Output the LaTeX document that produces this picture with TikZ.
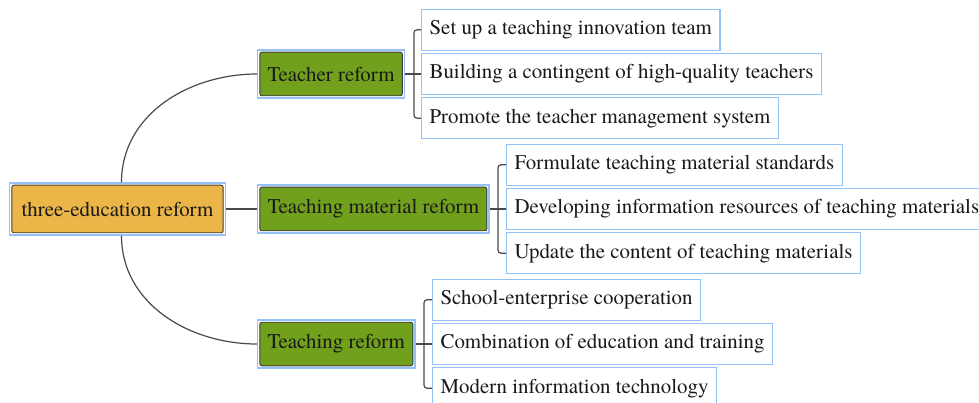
\documentclass[tikz,border=0pt]{standalone}
\usepackage{fontspec}
\setmainfont{texgyretermes-regular.otf}
\usetikzlibrary{positioning}
\definecolor{rootfill}{HTML}{EBB548}
\definecolor{branchfill}{HTML}{71A01C}
\definecolor{framecol}{HTML}{94C2F7}
\definecolor{edgecol}{HTML}{3C3C3C}
\definecolor{linkcol}{HTML}{4A4A4A}
\tikzset{
every picture/.style={
line width=1pt
}}

\begin{document}
\begin{tikzpicture}[x=1pt, y=-1pt,
font=\fontsize{20.9}{24}\selectfont, text=black!90,
framed/.style = {rectangle, draw=framecol, line width=1.3pt, fill=white,
  path picture={\draw[edgecol, line width=0.9pt, rounded corners=2pt, fill=#1]
  ([shift={(2.2pt,-2.2pt)}]path picture bounding box.north west) rectangle
  ([shift={(-2.2pt,2.2pt)}]path picture bounding box.south east);}},
rootbox/.style = {framed=rootfill, minimum height=52pt, inner xsep=12pt, anchor=west},
branch/.style = {framed=branchfill, minimum height=48pt, inner xsep=10pt, anchor=west},
leaf/.style = {rectangle, draw=framecol, line width=1.2pt, minimum height=41pt, inner xsep=8pt, anchor=west},
link/.style = {draw=linkcol, line width=1.2pt}]

\useasboundingbox (0,0) rectangle (979,403);

\node[rootbox] (root) at (9,209) {three-education reform};

\node[branch] (teacher) at (257,74) {Teacher reform};
\node[branch] (material) at (257,209) {Teaching material reform};
\node[branch] (teaching) at (257,344) {Teaching reform};

% teacher reform
\node[leaf] (t2) at (421,74) {Building a contingent of high-quality teachers};
\node[leaf, above=2pt of t2.north west, anchor=south west] (t1) {Set up a teaching innovation team};
\node[leaf, below=2pt of t2.south west, anchor=north west] (t3) {Promote the teacher management system};

% teaching material reform
\node[leaf] (m2) at (506,209) {Developing information resources of teaching materials};
\node[leaf, above=2pt of m2.north west, anchor=south west] (m1) {Formulate teaching material standards};
\node[leaf, below=2pt of m2.south west, anchor=north west] (m3) {Update the content of teaching materials};

% teaching reform
\node[leaf] (e2) at (432,344) {Combination of education and training};
\node[leaf, above=2pt of e2.north west, anchor=south west] (e1) {School-enterprise cooperation};
\node[leaf, below=2pt of e2.south west, anchor=north west] (e3) {Modern information technology};

\draw[link] ([xshift=4pt]root.north) to[out=90, in=180] (teacher.west);
\draw[link] (root.east) -- (material.west);
\draw[link] ([xshift=4pt]root.south) to[out=-90, in=180] (teaching.west);

\draw[link] (teacher.east) -- (t2.west);
\draw[link, rounded corners=3pt] (t1.west) -- ++(-7,0) |- (t3.west);
\draw[link] (material.east) -- (m2.west);
\draw[link, rounded corners=3pt] (m1.west) -- ++(-8,0) |- (m3.west);
\draw[link] (teaching.east) -- (e2.west);
\draw[link, rounded corners=3pt] (e1.west) -- ++(-8,0) |- (e3.west);
\end{tikzpicture}
\end{document}
